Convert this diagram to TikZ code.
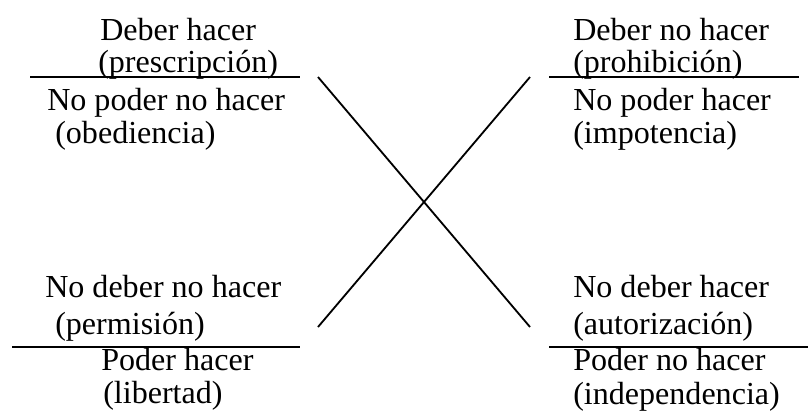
\documentclass[tikz,border=0pt]{standalone}
\usepackage{fontspec}
\setmainfont{Liberation Serif}
\tikzset{
  rotulo/.style = {anchor = base west, inner sep = 0pt,
    font = \fontsize{22.8}{26}\selectfont},
  raya/.style = {line width = 1.3pt}
}

\begin{document}
\begin{tikzpicture}[x = 0.025cm, y = -0.025cm]
  \useasboundingbox (0, 0) rectangle (808, 410);

  % arriba a la izquierda
  \node[rotulo] (deberHacer) at (100, 40) {Deber hacer};
  \node[rotulo] (prescripcion) at (98, 72) {(prescripción)};
  \node[rotulo] (noPoderNoHacer) at (47, 110) {No poder no hacer};
  \node[rotulo] (obediencia) at (55, 143) {(obediencia)};
  \coordinate (supIzqA) at (30, 77);
  \coordinate (supIzqB) at (300, 77);
  \draw[raya] (supIzqA) -- (supIzqB);

  % arriba a la derecha
  \node[rotulo] (deberNoHacer) at (573, 40) {Deber no hacer};
  \node[rotulo] (prohibicion) at (573, 72) {(prohibición)};
  \node[rotulo] (noPoderHacer) at (573, 110) {No poder hacer};
  \node[rotulo] (impotencia) at (573, 143) {(impotencia)};
  \coordinate (supDerA) at (549, 77);
  \coordinate (supDerB) at (799, 77);
  \draw[raya] (supDerA) -- (supDerB);

  % abajo a la izquierda
  \node[rotulo] (noDeberNoHacer) at (45, 297) {No deber no hacer};
  \node[rotulo] (permision) at (55, 334) {(permisión)};
  \node[rotulo] (poderHacer) at (101, 370) {Poder hacer};
  \node[rotulo] (libertad) at (103, 403) {(libertad)};
  \coordinate (infIzqA) at (12, 347);
  \coordinate (infIzqB) at (300, 347);
  \draw[raya] (infIzqA) -- (infIzqB);

  % abajo a la derecha
  \node[rotulo] (noDeberHacer) at (573, 297) {No deber hacer};
  \node[rotulo] (autorizacion) at (573, 334) {(autorización)};
  \node[rotulo] (poderNoHacer) at (573, 370) {Poder no hacer};
  \node[rotulo] (independencia) at (573, 404) {(independencia)};
  \coordinate (infDerA) at (549, 347);
  \coordinate (infDerB) at (808, 347);
  \draw[raya] (infDerA) -- (infDerB);

  % aspa central
  \coordinate (aspaSI) at (318, 77);
  \coordinate (aspaSD) at (530, 77);
  \coordinate (aspaII) at (318, 327);
  \coordinate (aspaID) at (530, 327);
  \draw[raya] (aspaSI) -- (aspaID);
  \draw[raya] (aspaII) -- (aspaSD);
\end{tikzpicture}
\end{document}
